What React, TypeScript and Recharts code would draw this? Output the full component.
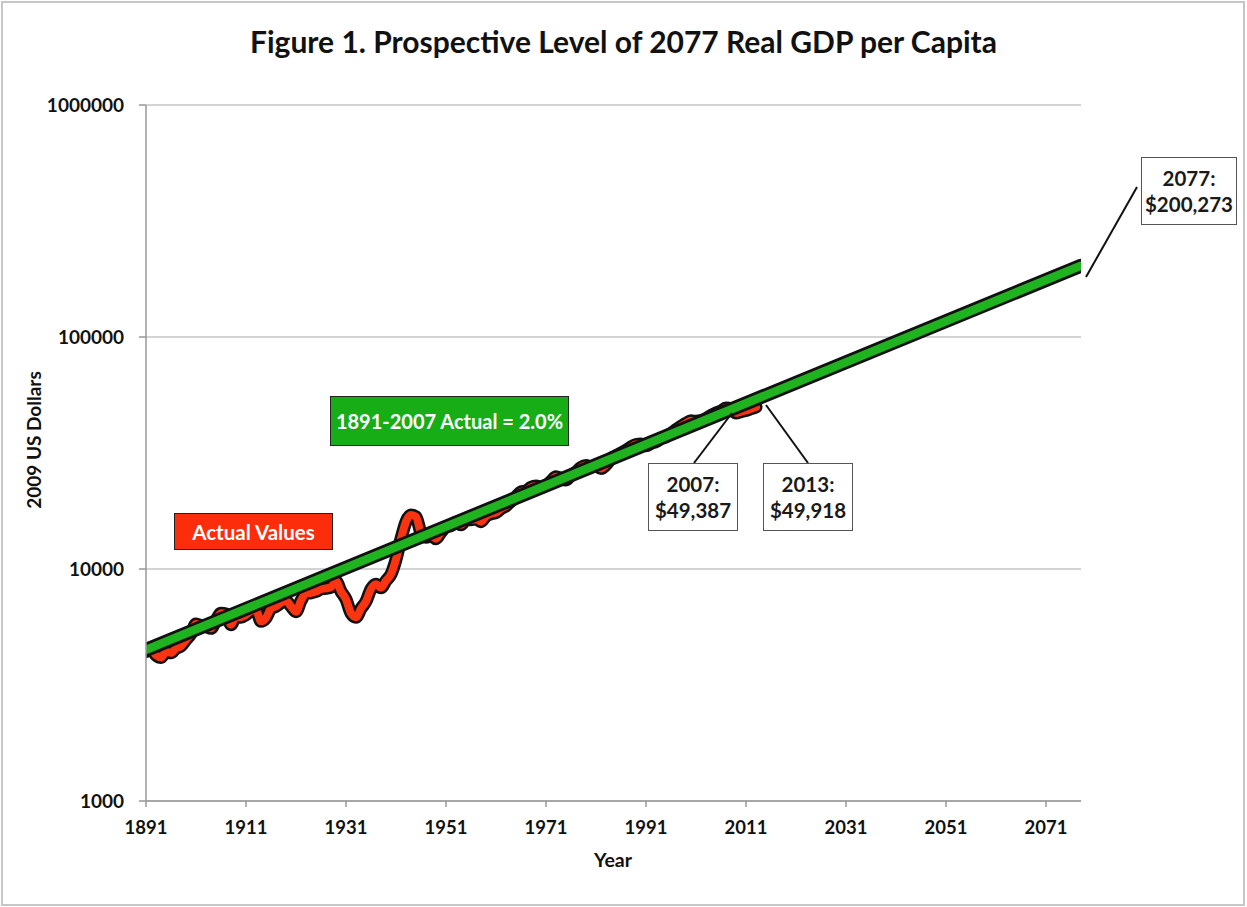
import { LineChart, Line, XAxis, YAxis, CartesianGrid } from "recharts";

// Real GDP per capita, 2009 US dollars, one value per year from 1891
const ACTUAL_FIRST_YEAR = 1891;
const actualValues = [
  4400, 4500, 4250, 4150, 4400, 4350, 4550, 4650, 4950, 5250,
  5800, 5700, 5650, 5550, 6000, 6450, 6400, 5750, 6250, 6200,
  6350, 6600, 6650, 5950, 6150, 6750, 6900, 7150, 7300, 6900,
  6550, 7300, 7850, 7900, 8000, 8200, 8250, 8350, 8850, 8000,
  7400, 6450, 6200, 6750, 7250, 8200, 8600, 8300, 8900, 9500,
  11000, 13500, 16000, 17100, 16800, 14300, 13700, 13900, 13500, 14400,
  15200, 15400, 15900, 15500, 16300, 16300, 16400, 16000, 16900, 17300,
  17500, 18200, 18700, 19600, 20500, 21500, 21700, 22500, 22800, 22500,
  22900, 23900, 25000, 24600, 24200, 25300, 26200, 27400, 27900, 27500,
  27900, 27100, 28100, 29900, 30800, 31600, 32500, 33600, 34400, 34600,
  34000, 34800, 35400, 36500, 37200, 38400, 39900, 41200, 42500, 43500,
  43300, 43600, 44500, 45900, 47000, 47900, 49387, 48900, 47000, 47700,
  48200, 49100, 49918
];

// 2.0% trend line, straight on the log scale
const trendYears = [1891, 2078];
const trendValues = [4480, 203000];

const xTicks = [1891, 1911, 1931, 1951, 1971, 1991, 2011, 2031, 2051, 2071];
const yTicks = [1000, 10000, 100000, 1000000];

const actualData = actualValues.map((v, i) => ({ year: ACTUAL_FIRST_YEAR + i, value: v }));
const trendData = trendYears.map((y, i) => ({ year: y, value: trendValues[i] }));

const FONT = "Lato, 'Open Sans', sans-serif";
const RED = "#fa3311";
const GREEN = "#1fb41f";

interface CalloutProps {
  left: number;
  top: number;
  width: number;
  height: number;
  lines: string[];
}

function Callout({ left, top, width, height, lines }: CalloutProps) {
  return (
    <div
      style={{
        position: "absolute",
        left,
        top,
        width,
        height,
        boxSizing: "border-box",
        border: "1.5px solid #555",
        background: "#fff",
        display: "flex",
        flexDirection: "column",
        alignItems: "center",
        justifyContent: "center",
        fontFamily: FONT,
        fontWeight: 700,
        fontSize: 20.5,
        lineHeight: "26px",
        color: "#1a1a1a"
      }}
    >
      {lines.map((l) => (
        <span key={l}>{l}</span>
      ))}
    </div>
  );
}

export default function App() {
  return (
    <div
      style={{
        position: "absolute",
        left: 0,
        top: 0,
        width: 1247,
        height: 907,
        background: "#fff",
        overflow: "hidden"
      }}
    >
      <div
        style={{
          position: "absolute",
          left: 1,
          top: 1,
          width: 1244,
          height: 905,
          boxSizing: "border-box",
          border: "2px solid #c6c6c6"
        }}
      />
      <div
        style={{
          position: "absolute",
          left: 0,
          top: 23,
          width: 1247,
          textAlign: "center",
          fontFamily: FONT,
          fontWeight: 700,
          fontSize: 30,
          color: "#111"
        }}
      >
        Figure 1. Prospective Level of 2077 Real GDP per Capita
      </div>

      <div style={{ position: "absolute", left: 0, top: 0 }}>
        <LineChart
          width={1247}
          height={907}
          margin={{ top: 105, right: 166, bottom: 0, left: 46 }}
        >
          <CartesianGrid vertical={false} stroke="#a8a8a8" strokeWidth={1.2} />
          <XAxis
            type="number"
            dataKey="year"
            domain={[1891, 2078]}
            ticks={xTicks}
            allowDataOverflow
            height={106}
            tickSize={6}
            tickMargin={14}
            axisLine={{ stroke: "#999", strokeWidth: 1.5 }}
            tickLine={{ stroke: "#999", strokeWidth: 1.5 }}
            tick={{ fill: "#111", fontSize: 18.5, fontWeight: 700, fontFamily: FONT }}
          />
          <YAxis
            type="number"
            dataKey="value"
            scale="log"
            domain={[1000, 1000000]}
            ticks={yTicks}
            allowDataOverflow
            width={100}
            tickSize={7}
            tickMargin={15}
            axisLine={{ stroke: "#999", strokeWidth: 1.5 }}
            tickLine={{ stroke: "#999", strokeWidth: 1.5 }}
            tick={{ fill: "#111", fontSize: 19, fontWeight: 700, fontFamily: FONT }}
          />
          <Line
            data={actualData}
            dataKey="value"
            type="monotone"
            stroke="#111"
            strokeWidth={13}
            strokeLinecap="round"
            strokeLinejoin="round"
            dot={false}
            activeDot={false}
            isAnimationActive={false}
          />
          <Line
            data={actualData}
            dataKey="value"
            type="monotone"
            stroke={RED}
            strokeWidth={8}
            strokeLinecap="round"
            strokeLinejoin="round"
            dot={false}
            activeDot={false}
            isAnimationActive={false}
          />
          <Line
            data={trendData}
            dataKey="value"
            type="linear"
            stroke="#111"
            strokeWidth={14}
            strokeLinecap="round"
            dot={false}
            activeDot={false}
            isAnimationActive={false}
          />
          <Line
            data={trendData}
            dataKey="value"
            type="linear"
            stroke={GREEN}
            strokeWidth={8.5}
            strokeLinecap="round"
            dot={false}
            activeDot={false}
            isAnimationActive={false}
          />
        </LineChart>
      </div>

      <div
        style={{
          position: "absolute",
          left: 33,
          top: 440,
          transform: "translate(-50%, -50%) rotate(-90deg)",
          whiteSpace: "nowrap",
          fontFamily: FONT,
          fontWeight: 700,
          fontSize: 19,
          color: "#111"
        }}
      >
        2009 US Dollars
      </div>
      <div
        style={{
          position: "absolute",
          left: 563,
          top: 848,
          width: 100,
          textAlign: "center",
          fontFamily: FONT,
          fontWeight: 700,
          fontSize: 19.5,
          color: "#111"
        }}
      >
        Year
      </div>

      <div
        style={{
          position: "absolute",
          left: 330,
          top: 396,
          width: 239,
          height: 50,
          boxSizing: "border-box",
          border: "1.5px solid #222",
          background: "#16ad16",
          color: "#fff",
          fontFamily: FONT,
          fontWeight: 700,
          fontSize: 20,
          display: "flex",
          alignItems: "center",
          justifyContent: "center"
        }}
      >
        1891-2007 Actual = 2.0%
      </div>
      <div
        style={{
          position: "absolute",
          left: 174,
          top: 513,
          width: 159,
          height: 37,
          boxSizing: "border-box",
          border: "1.5px solid #222",
          background: "#fb2d0a",
          color: "#fff",
          fontFamily: FONT,
          fontWeight: 700,
          fontSize: 20.5,
          display: "flex",
          alignItems: "center",
          justifyContent: "center"
        }}
      >
        Actual Values
      </div>

      <svg
        width={1247}
        height={907}
        style={{ position: "absolute", left: 0, top: 0, pointerEvents: "none" }}
      >
        <line x1={694} y1={463} x2={732} y2={413} stroke="#111" strokeWidth={2} />
        <line x1={766} y1={405} x2={808} y2={463} stroke="#111" strokeWidth={2} />
        <line x1={1137} y1={187} x2={1086} y2={277} stroke="#111" strokeWidth={2} />
      </svg>

      <Callout left={648} top={463} width={90} height={68} lines={["2007:", "$49,387"]} />
      <Callout left={763} top={463} width={90} height={68} lines={["2013:", "$49,918"]} />
      <Callout left={1141} top={157} width={96} height={68} lines={["2077:", "$200,273"]} />
    </div>
  );
}
